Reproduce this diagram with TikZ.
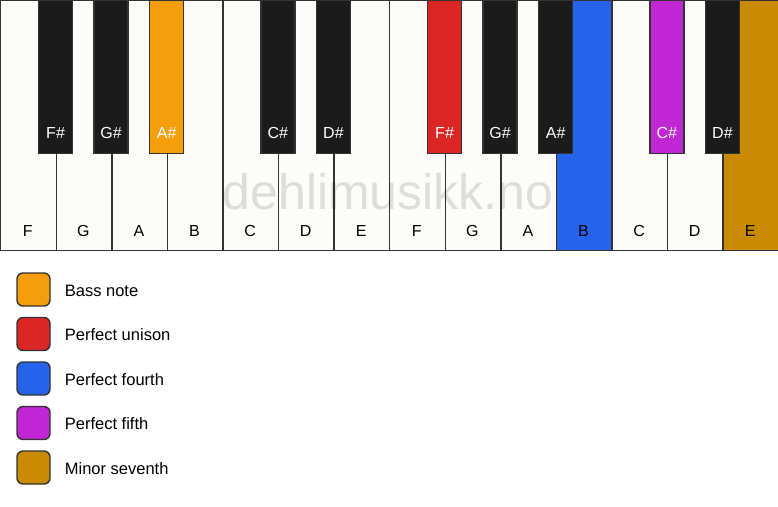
\documentclass[tikz,border=0pt]{standalone}
\usepackage{fontspec}
\setmainfont{Liberation Sans}
\usetikzlibrary{positioning}

\definecolor{ivory}{HTML}{FDFCF9}
\definecolor{keyblack}{HTML}{1B1B1B}
\definecolor{keyline}{HTML}{333333}
\definecolor{bassnote}{HTML}{F59E0B}
\definecolor{unison}{HTML}{DC2626}
\definecolor{fourth}{HTML}{2563EB}
\definecolor{fifth}{HTML}{C026D3}
\definecolor{seventh}{HTML}{CA8A04}

\newcommand{\keyfont}{\fontsize{16}{18}\selectfont}
\newcommand{\legendfont}{\fontsize{16.5}{19}\selectfont}

\tikzset{
  whitekey/.style={draw=keyline, fill=ivory, line width=1.4pt, inner sep=0pt,
    minimum width=55.571pt, minimum height=250pt, anchor=north west},
  blackkey/.style={draw=keyline, fill=keyblack, line width=1.4pt, inner sep=0pt,
    minimum width=34pt, minimum height=153pt, anchor=north},
  wlabel/.style={font=\keyfont, text=black, inner sep=0pt},
  blabel/.style={font=\keyfont, text=white, inner sep=0pt},
  legendbox/.style={draw=keyline, line width=1.4pt, rounded corners=6pt,
    minimum size=33pt, inner sep=0pt},
  legendtext/.style={font=\legendfont, anchor=west, inner sep=0pt},
}

\begin{document}
\begin{tikzpicture}[x=1pt,y=-1pt]
\useasboundingbox[fill=white] (0,0) rectangle (778,506);

% white keys
\node[whitekey] (wF1) at (0,0) {};
\node[whitekey] (wG1) at (55.571,0) {};
\node[whitekey] (wA1) at (111.143,0) {};
\node[whitekey] (wB1) at (166.714,0) {};
\node[whitekey] (wC1) at (222.286,0) {};
\node[whitekey] (wD1) at (277.857,0) {};
\node[whitekey] (wE1) at (333.429,0) {};
\node[whitekey] (wF2) at (389,0) {};
\node[whitekey] (wG2) at (444.571,0) {};
\node[whitekey] (wA2) at (500.143,0) {};
\node[whitekey,fill=fourth] (wB2) at (555.714,0) {};
\node[whitekey] (wC2) at (611.286,0) {};
\node[whitekey] (wD2) at (666.857,0) {};
\node[whitekey,fill=seventh] (wE2) at (722.429,0) {};

\node[wlabel] (lF1) at (27.786,231) {F};
\node[wlabel] (lG1) at (83.357,231) {G};
\node[wlabel] (lA1) at (138.929,231) {A};
\node[wlabel] (lB1) at (194.500,231) {B};
\node[wlabel] (lC1) at (250.071,231) {C};
\node[wlabel] (lD1) at (305.643,231) {D};
\node[wlabel] (lE1) at (361.214,231) {E};
\node[wlabel] (lF2) at (416.786,231) {F};
\node[wlabel] (lG2) at (472.357,231) {G};
\node[wlabel] (lA2) at (527.929,231) {A};
\node[wlabel] (lB2) at (583.500,231) {B};
\node[wlabel] (lC2) at (639.071,231) {C};
\node[wlabel] (lD2) at (694.643,231) {D};
\node[wlabel] (lE2) at (750.214,231) {E};

% watermark
\node[font=\fontsize{50}{50}\selectfont, text=black, text opacity=0.12, inner sep=0pt]
  (mark) at (388,192) {dehlimusikk.no};

% black keys
\node[blackkey] (bFs1) at (55.571,0) {};
\node[blackkey] (bGs1) at (111.143,0) {};
\node[blackkey,fill=bassnote] (bAs1) at (166.714,0) {};
\node[blackkey] (bCs1) at (277.857,0) {};
\node[blackkey] (bDs1) at (333.429,0) {};
\node[blackkey,fill=unison] (bFs2) at (444.571,0) {};
\node[blackkey] (bGs2) at (500.143,0) {};
\node[blackkey] (bAs2) at (555.714,0) {};
\node[blackkey,fill=fifth] (bCs2) at (666.857,0) {};
\node[blackkey] (bDs2) at (722.429,0) {};

\node[blabel] (lFs1) at (55.571,133) {F\#};
\node[blabel] (lGs1) at (111.143,133) {G\#};
\node[blabel] (lAs1) at (166.714,133) {A\#};
\node[blabel] (lCs1) at (277.857,133) {C\#};
\node[blabel] (lDs1) at (333.429,133) {D\#};
\node[blabel] (lFs2) at (444.571,133) {F\#};
\node[blabel] (lGs2) at (500.143,133) {G\#};
\node[blabel] (lAs2) at (555.714,133) {A\#};
\node[blabel] (lCs2) at (666.857,133) {C\#};
\node[blabel] (lDs2) at (722.429,133) {D\#};

% legend
\node[legendbox,fill=bassnote] (kBass) at (33.5,289.5) {};
\node[legendbox,fill=unison] (kUnison) at (33.5,334) {};
\node[legendbox,fill=fourth] (kFourth) at (33.5,378.5) {};
\node[legendbox,fill=fifth] (kFifth) at (33.5,423) {};
\node[legendbox,fill=seventh] (kSeventh) at (33.5,467.5) {};

\node[legendtext,right=14pt of kBass,yshift=-1pt] (tBass) {Bass note};
\node[legendtext,right=14pt of kUnison,yshift=-1pt] (tUnison) {Perfect unison};
\node[legendtext,right=14pt of kFourth,yshift=-1pt] (tFourth) {Perfect fourth};
\node[legendtext,right=14pt of kFifth,yshift=-1pt] (tFifth) {Perfect fifth};
\node[legendtext,right=14pt of kSeventh,yshift=-1pt] (tSeventh) {Minor seventh};
\end{tikzpicture}
\end{document}
